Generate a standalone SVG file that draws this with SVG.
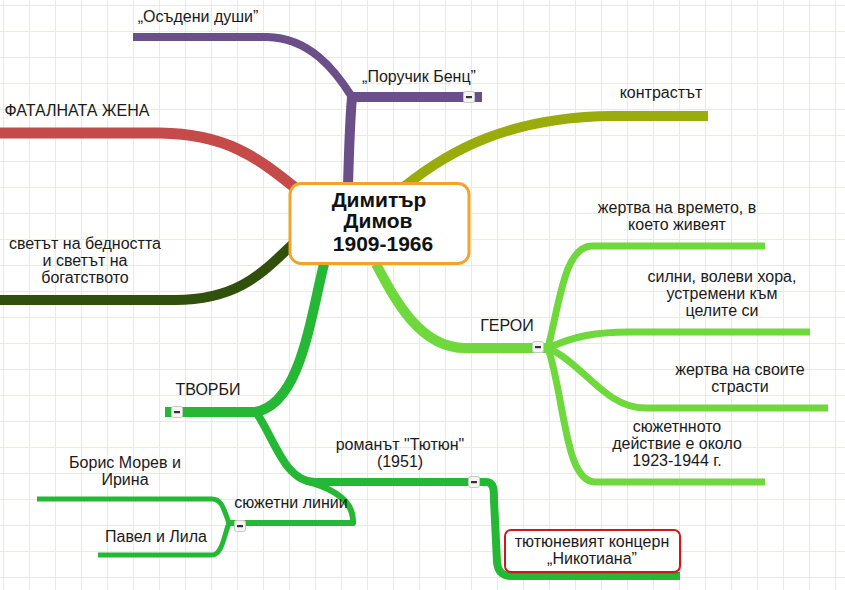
<svg xmlns="http://www.w3.org/2000/svg" width="845" height="590" viewBox="0 0 845 590">
<defs>
<pattern id="grid" x="3" y="5" width="26" height="26" patternUnits="userSpaceOnUse">
<path d="M0.5 0V26M0 0.5H26" fill="none" stroke="#eaeae0" stroke-width="1"/>
</pattern>
<g id="btn">
<rect x="-5.5" y="-5.5" width="11" height="11" rx="2" fill="#f4f4f4" stroke="#c8c8c8" stroke-width="1"/>
<rect x="-3" y="-1" width="6" height="2.2" fill="#333"/>
</g>
</defs>
<style>
.t{font-family:"Liberation Sans",Arial,sans-serif;font-size:16px;fill:#1a1a1a;text-anchor:middle}
.b{font-weight:bold;font-size:21px;fill:#111}
.c{fill:none;stroke-linecap:butt;stroke-linejoin:round}
.pu{stroke:#6b4f88}
.re{stroke:#c44b4a}
.dg{stroke:#31500c}
.ol{stroke:#9aac0c}
.lg{stroke:#6fd83c}
.gr{stroke:#25b834}
</style>
<rect width="845" height="590" fill="#ffffff"/>
<rect width="845" height="590" fill="url(#grid)"/>
<g id="connectors">
<path class="c pu" stroke-width="10" d="M348 186 C349 150 350 120 352 97"/>
<path class="c pu" stroke-width="10" d="M350 97 H482"/>
<path class="c pu" stroke-width="8" d="M352 97 C335 70 310 38 267 37 H133"/>
<path class="c re" stroke-width="11" d="M298 190 C260 160 230 134 160 133 H0"/>
<path class="c dg" stroke-width="10" d="M293 244 C265 270 240 300 175 300 H0"/>
<path class="c ol" stroke-width="10" d="M405 186 C450 150 510 117 612 116 H708"/>
<path class="c lg" stroke-width="10" d="M376 264 C395 300 420 348 465 348 H550"/>
<path class="c lg" stroke-width="7" d="M548 348 C560 300 565 246 592 246 H765"/>
<path class="c lg" stroke-width="7" d="M548 348 C575 336 595 332 630 332 H810"/>
<path class="c lg" stroke-width="7" d="M548 348 C585 365 605 408 645 408 H828"/>
<path class="c lg" stroke-width="7" d="M548 348 C565 400 565 482 595 482 H765"/>
<path class="c gr" stroke-width="10" d="M324 264 C310 320 300 405 255 412 H165"/>
<path class="c gr" stroke-width="8" d="M256 412 C275 440 285 482 315 482 H486 C494 482 494 490 494 500 L497 562 C498 572 502 576 512 576 H680"/>
<path class="c gr" stroke-width="6" d="M305 481 C340 490 354 505 353 523 H228"/>
<path class="c gr" stroke-width="5" d="M229 523 C224 510 222 499 212 499 H37"/>
<path class="c gr" stroke-width="5" d="M229 523 C224 536 222 555 212 555 H98"/>
</g>
<g id="n-center">
<rect x="290" y="183.5" width="179" height="80" rx="11" fill="#ffffff" stroke="#f0a42a" stroke-width="3"/>
<text class="t b" x="379" y="207">Димитър</text>
<text class="t b" x="378" y="228">Димов </text>
<text class="t b" x="383" y="251">1909-1966</text>
</g>
<g id="n-osadeni"><text class="t" x="198" y="22">„Осъдени души”</text></g>
<g id="n-poruchik"><text class="t" x="419" y="82">„Поручик Бенц”</text><use href="#btn" x="469" y="97"/></g>
<g id="n-fatal"><text class="t" x="77" y="116">ФАТАЛНАТА ЖЕНА</text></g>
<g id="n-svetat"><text class="t" x="85" y="249">светът на бедността</text><text class="t" x="85" y="266">и светът на</text><text class="t" x="85" y="283">богатството</text></g>
<g id="n-kontrast"><text class="t" x="661" y="98">контрастът</text></g>
<g id="n-geroi"><text class="t" x="507" y="331">ГЕРОИ</text><use href="#btn" x="538" y="347"/></g>
<g id="n-zhertva1"><text class="t" x="677" y="213">жертва на времето, в</text><text class="t" x="677" y="230">което живеят</text></g>
<g id="n-silni"><text class="t" x="722" y="282">силни, волеви хора,</text><text class="t" x="722" y="299">устремени към</text><text class="t" x="722" y="316">целите си</text></g>
<g id="n-zhertva2"><text class="t" x="740" y="375">жертва на своите</text><text class="t" x="740" y="392">страсти</text></g>
<g id="n-syuzhet"><text class="t" x="677" y="432">сюжетнното</text><text class="t" x="677" y="449">действие е около</text><text class="t" x="677" y="466">1923-1944 г.</text></g>
<g id="n-tvorbi"><text class="t" x="208" y="395">ТВОРБИ</text><use href="#btn" x="177" y="412"/></g>
<g id="n-tyutyun"><text class="t" x="400" y="450">романът "Тютюн"</text><text class="t" x="400" y="467">(1951)</text><use href="#btn" x="474" y="482"/></g>
<g id="n-linii"><text class="t" x="291" y="508">сюжетни линии</text><use href="#btn" x="240" y="526"/></g>
<g id="n-boris"><text class="t" x="125" y="468">Борис Морев и</text><text class="t" x="125" y="485">Ирина</text></g>
<g id="n-pavel"><text class="t" x="156" y="542">Павел и Лила</text></g>
<g id="n-nikotiana">
<rect x="507" y="532" width="175" height="42" rx="6" fill="#000" opacity="0.12"/>
<rect x="505" y="530" width="175" height="42" rx="6" fill="#ffffff" stroke="#cc1a1a" stroke-width="2"/>
<text class="t" x="592" y="547">тютюневият концерн</text>
<text class="t" x="592" y="564">„Никотиана”</text>
</g>
</svg>
